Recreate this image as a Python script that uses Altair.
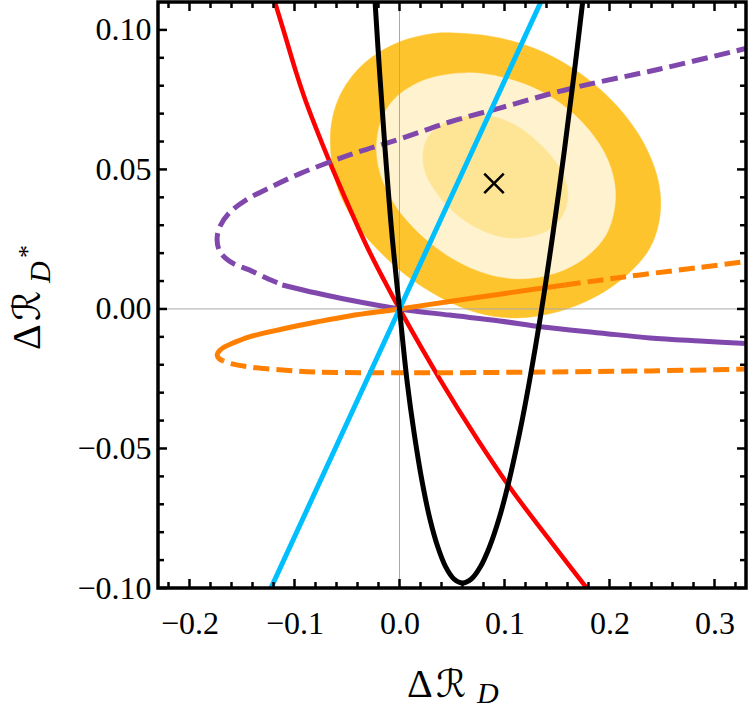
import altair as alt
import pandas as pd

# ---------------- data ----------------
# confidence regions (boundary points, data units)
outer_x = [0.0525, 0.0954, 0.1384, 0.1765, 0.2080, 0.2319, 0.2462, 0.2481, 0.2385, 0.2166, 0.1861, 0.1498,
           0.1116, 0.0744, 0.0382, 0.0048, -0.0258, -0.0468, -0.0611, -0.0658, -0.0573, -0.0363, -0.0067, 0.0239]
outer_y = [0.0989, 0.0971, 0.0918, 0.0832, 0.0724, 0.0599, 0.0462, 0.0337, 0.0219, 0.0122, 0.0043, -0.0011,
           -0.0032, -0.0014, 0.0043, 0.0125, 0.0233, 0.0337, 0.0462, 0.0624, 0.0760, 0.0871, 0.0946, 0.0982]

middle_x = [0.0639, 0.1002, 0.1355, 0.1670, 0.1908, 0.2032, 0.2052, 0.1966, 0.1765, 0.1489, 0.1164, 0.0840,
            0.0525, 0.0239, -0.0010, -0.0162, -0.0219, -0.0172, -0.0019, 0.0267]
middle_y = [0.0846, 0.0828, 0.0778, 0.0695, 0.0588, 0.0480, 0.0373, 0.0265, 0.0183, 0.0129, 0.0108, 0.0125,
            0.0176, 0.0254, 0.0355, 0.0462, 0.0570, 0.0677, 0.0763, 0.0824]

inner_x = [0.0830, 0.1116, 0.1365, 0.1536, 0.1603, 0.1555, 0.1384, 0.1097, 0.0821, 0.0563, 0.0353, 0.0229,
           0.0267, 0.0496]
inner_y = [0.0692, 0.0656, 0.0581, 0.0498, 0.0416, 0.0337, 0.0276, 0.0254, 0.0276, 0.0333, 0.0416, 0.0513,
           0.0613, 0.0677]

best_x = [0.09]
best_y = [0.045]

# curves
red_x = [-0.1254, -0.1097, -0.0983, -0.0897, -0.0673, -0.0510, -0.0308, -0.0143, 0.0, 0.0388, 0.0740,
         0.1069, 0.1422, 0.1784, 0.1947]
red_y = [0.1183, 0.0989, 0.0846, 0.0749, 0.0534, 0.0391, 0.0222, 0.0100, 0.0, -0.0254, -0.0466,
         -0.0649, -0.0824, -0.1000, -0.1075]

black_x = [-0.0243, -0.0234, -0.0189, -0.0137, -0.0073, 0.0, 0.0074, 0.0139, 0.0218, 0.0290, 0.0365, 0.0441,
           0.0520, 0.0601, 0.0684, 0.0769, 0.0857, 0.0947, 0.1038, 0.1144, 0.1235, 0.1354, 0.1462, 0.1571,
           0.1664, 0.1747, 0.1766]
black_y = [0.1168, 0.1108, 0.0846, 0.0570, 0.0272, 0.0, -0.0265, -0.0444, -0.0624, -0.0753, -0.0853, -0.0925,
           -0.0968, -0.0982, -0.0968, -0.0925, -0.0853, -0.0753, -0.0624, -0.0444, -0.0265, 0.0, 0.0272, 0.0570,
           0.0846, 0.1108, 0.1168]

cyan_x = [-0.130, 0.0, 0.140]
cyan_y = [-0.1062, 0.0, 0.1144]

purple_dash_x = [0.3359, 0.2481, 0.1651, 0.0954, 0.0477, 0.0000, -0.0477, -0.0954, -0.1240, -0.1460, -0.1622,
                 -0.1708, -0.1737, -0.1718, -0.1660, -0.1574, -0.1431, -0.1269, -0.1116]
purple_dash_y = [0.0939, 0.0860, 0.0792, 0.0720, 0.0670, 0.0609, 0.0552, 0.0484, 0.0434, 0.0391, 0.0344,
                 0.0297, 0.0254, 0.0211, 0.0183, 0.0161, 0.0140, 0.0111, 0.0086]
purple_solid_x = [-0.1116, -0.0792, -0.0477, 0.0, 0.0477, 0.0954, 0.1365, 0.1908, 0.2385, 0.2863, 0.3359]
purple_solid_y = [0.0086, 0.0057, 0.0032, 0.0, -0.0022, -0.0043, -0.0065, -0.0086, -0.0104, -0.0115, -0.0125]

orange_solid_x = [-0.1679, -0.1718, -0.1737, -0.1718, -0.1679, -0.1603, -0.1431, -0.1116, -0.0792, -0.0477,
                  0.0, 0.0477, 0.0954, 0.1365, 0.1574]
orange_solid_y = [-0.0186, -0.0178, -0.0165, -0.0151, -0.0139, -0.0125, -0.0100, -0.0072, -0.0047, -0.0025,
                  0.0, 0.0027, 0.0053, 0.0075, 0.0086]
orange_dash_up_x = [0.1574, 0.1908, 0.2290, 0.2863, 0.3359]
orange_dash_up_y = [0.0086, 0.0103, 0.0122, 0.0149, 0.0173]
orange_dash_lo_x = [0.3359, 0.2385, 0.1365, 0.0, -0.0792, -0.1116, -0.1431, -0.1603, -0.1679]
orange_dash_lo_y = [-0.0215, -0.0222, -0.0226, -0.0229, -0.0226, -0.0219, -0.0208, -0.0196, -0.0186]

# ticks
x_major = [-0.2, -0.1, 0.0, 0.1, 0.2, 0.3]
x_minor = [-0.22, -0.18, -0.16, -0.14, -0.12, -0.08, -0.06, -0.04, -0.02, 0.02, 0.04, 0.06, 0.08,
           0.12, 0.14, 0.16, 0.18, 0.22, 0.24, 0.26, 0.28, 0.32]
y_major = [-0.10, -0.05, 0.0, 0.05, 0.10]
y_minor = [-0.09, -0.08, -0.07, -0.06, -0.04, -0.03, -0.02, -0.01, 0.01, 0.02, 0.03, 0.04,
           0.06, 0.07, 0.08, 0.09]

# ---------------- chart ----------------
W, H = 588, 586
FONT = "'Liberation Serif', 'DejaVu Serif', serif"
SCRIPT = "'DejaVu Sans', 'Liberation Serif', serif"

xs = alt.Scale(domain=[-0.23, 0.33], nice=False, zero=False)
ys = alt.Scale(domain=[-0.10, 0.11], nice=False, zero=False)
xaxis = alt.Axis(values=x_major, format=".1f", ticks=False, tickSize=0, domain=False, grid=False,
                 labelFont=FONT, labelFontSize=32, labelColor="black", labelPadding=20,
                 labelFlush=False, labelOverlap=False, title=None)
yaxis = alt.Axis(values=y_major, format=".2f", ticks=False, tickSize=0, domain=False, grid=False,
                 labelFont=FONT, labelFontSize=32, labelColor="black", labelPadding=7,
                 labelFlush=False, labelOverlap=False, title=None)


def X(f="x"):
    return alt.X(f, type="quantitative", scale=xs, axis=xaxis)


def Y(f="y"):
    return alt.Y(f, type="quantitative", scale=ys, axis=yaxis)


def table(xv, yv):
    return pd.DataFrame({"x": xv, "y": yv, "i": list(range(len(xv)))})


def region(xv, yv, color):
    return alt.Chart(table(xv, yv)).mark_line(
        fill=color, stroke=color, strokeWidth=0.5, interpolate="cardinal-closed", clip=True
    ).encode(x=X(), y=Y(), order="i:Q")


def curve(xv, yv, color, width, dash=None):
    kw = dict(color=color, strokeWidth=width, interpolate="catmull-rom", clip=True, strokeCap="butt")
    if dash is not None:
        kw["strokeDash"] = dash
    return alt.Chart(table(xv, yv)).mark_line(**kw).encode(x=X(), y=Y(), order="i:Q")


layers = [
    region(outer_x, outer_y, "#FEC42E"),
    region(middle_x, middle_y, "#FFF2CE"),
    region(inner_x, inner_y, "#FEE596"),
    alt.Chart(pd.DataFrame({"v": [0.0]})).mark_rule(color="#AAAAAA", strokeWidth=1).encode(x=X("v")),
    alt.Chart(pd.DataFrame({"v": [0.0]})).mark_rule(color="#AAAAAA", strokeWidth=1).encode(y=Y("v")),
    curve(red_x, red_y, "#FF0000", 4.5),
    curve(purple_dash_x, purple_dash_y, "#8048AC", 5, [16, 7]),
    curve(purple_solid_x, purple_solid_y, "#8048AC", 5),
    curve(orange_solid_x, orange_solid_y, "#FF8000", 5),
    curve(orange_dash_up_x, orange_dash_up_y, "#FF8000", 5, [16, 7]),
    curve(orange_dash_lo_x, orange_dash_lo_y, "#FF8000", 5, [16, 7]),
    curve(cyan_x, cyan_y, "#00BFFF", 5),
    curve(black_x, black_y, "#000000", 5),
    alt.Chart(table(best_x, best_y)).mark_point(
        shape="M-1,-1L1,1M-1,1L1,-1", size=380, filled=False, stroke="black", strokeWidth=2.5, opacity=1
    ).encode(x=X(), y=Y()),
]

# inward ticks on all four sides
for vals, ln in ((x_major, 9), (x_minor, 6)):
    d = pd.DataFrame({"v": vals})
    layers.append(alt.Chart(d).mark_rule(color="black", strokeWidth=2.5).encode(
        x=X("v"), y=alt.value(H), y2=alt.value(H - ln)))
    layers.append(alt.Chart(d).mark_rule(color="black", strokeWidth=2.5).encode(
        x=X("v"), y=alt.value(0), y2=alt.value(ln)))
for vals, ln in ((y_major, 9), (y_minor, 6)):
    d = pd.DataFrame({"v": vals})
    layers.append(alt.Chart(d).mark_rule(color="black", strokeWidth=2.5).encode(
        y=Y("v"), x=alt.value(0), x2=alt.value(ln)))
    layers.append(alt.Chart(d).mark_rule(color="black", strokeWidth=2.5).encode(
        y=Y("v"), x=alt.value(W), x2=alt.value(W - ln)))

one = pd.DataFrame({"a": [0]})
# frame
layers.append(alt.Chart(one).mark_rect(filled=False, stroke="black", strokeWidth=3.5).encode(
    x=alt.value(0), x2=alt.value(W), y=alt.value(0), y2=alt.value(H)))


# axis titles (Δℛ_D and Δℛ_{D*}), one glyph group at a time
def txt(s, x, y, size, font=FONT, italic=False, angle=0):
    kw = dict(text=s, font=font, fontSize=size, align="left", baseline="alphabetic", color="black")
    if italic:
        kw["fontStyle"] = "italic"
    if angle:
        kw["angle"] = angle
    return alt.Chart(one).mark_text(**kw).encode(x=alt.value(x), y=alt.value(y))


layers += [
    txt("Δ", 249, 695, 40),
    txt("ℛ", 278, 695, 38, font=SCRIPT),
    txt("D", 319, 701, 30, italic=True),
    txt("Δ", -118, 348, 40, angle=270),
    txt("ℛ", -118, 319, 38, font=SCRIPT, angle=270),
    txt("D", -108, 281, 30, italic=True, angle=270),
    txt("*", -122, 256, 26, angle=270),
]

chart = alt.layer(*layers).properties(
    width=W, height=H,
    autosize=alt.AutoSizeParams(type="none"),
    padding={"left": 158, "top": 2, "right": 4, "bottom": 131},
).configure_view(strokeWidth=0)

chart.save("out.html", embed_options={"renderer": "svg", "actions": False})
